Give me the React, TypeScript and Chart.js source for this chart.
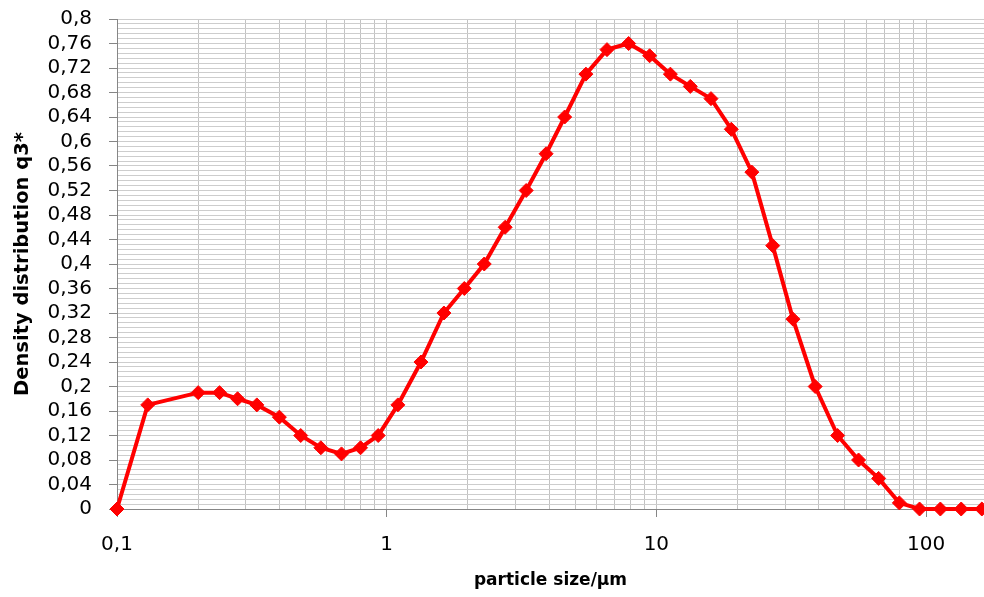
import React, { useEffect, useRef } from "react";
import { Chart, registerables } from "chart.js";

Chart.register(...registerables);

// particle size (µm)
const sizes: number[] = [
  0.1, 0.13, 0.2, 0.24, 0.28, 0.33, 0.4, 0.48, 0.57, 0.68, 0.8, 0.93, 1.1,
  1.34, 1.63, 1.94, 2.3, 2.75, 3.29, 3.9, 4.57, 5.48, 6.56, 7.89, 9.44,
  11.27, 13.36, 15.94, 18.96, 22.6, 27.0, 32.1, 38.8, 47.0, 56.2, 66.7,
  79.6, 94.6, 113, 135, 161,
];

// density distribution q3*
const density: number[] = [
  0, 0.17, 0.19, 0.19, 0.18, 0.17, 0.15, 0.12, 0.1, 0.09, 0.1, 0.12, 0.17,
  0.24, 0.32, 0.36, 0.4, 0.46, 0.52, 0.58, 0.64, 0.71, 0.75, 0.76, 0.74,
  0.71, 0.69, 0.67, 0.62, 0.55, 0.43, 0.31, 0.2, 0.12, 0.08, 0.05, 0.01,
  0, 0, 0, 0,
];

const xDecades: number[] = [0.1, 1, 10, 100];
const xDecadeLabels: string[] = ["0,1", "1", "10", "100"];
const xMultipliers: number[] = [1, 2, 3, 4, 5, 6, 7, 8, 9];

const X_MIN = 0.1;
const X_MAX = 164;
const Y_MIN = 0;
const Y_MAX = 0.8;
const Y_MINOR_STEP = 0.008;
const Y_MAJOR_EVERY = 5;

const TICK_FONT = { family: "DejaVu Sans", size: 20 };
const Y_TITLE_FONT = { family: "DejaVu Sans", size: 19.5, weight: "bold" as const };
const X_TITLE_FONT = { family: "DejaVu Sans", size: 17, weight: "bold" as const };

const isDecade = (v: number) =>
  xDecades.some((d) => Math.abs(v - d) / d < 1e-6);

export default function App() {
  const ref = useRef<HTMLCanvasElement | null>(null);

  useEffect(() => {
    document.body.style.margin = "0";
    const canvas = ref.current;
    if (!canvas) return;

    const gridValues: number[] = [];
    for (let i = 0; i < xDecades.length - 1; i++) {
      for (const m of xMultipliers) gridValues.push(xDecades[i] * m);
    }
    gridValues.push(xDecades[xDecades.length - 1]);

    const chart = new Chart(canvas, {
      type: "line",
      data: {
        datasets: [
          {
            data: sizes.map((s, i) => ({ x: s, y: density[i] })),
            borderColor: "#ff0000",
            backgroundColor: "#ff0000",
            borderWidth: 4,
            pointStyle: "rectRot",
            pointRadius: 7,
            pointBorderWidth: 1,
            pointBorderColor: "#ff0000",
            pointBackgroundColor: "#ff0000",
            tension: 0,
            clip: false as any,
          },
        ],
      },
      options: {
        animation: false,
        responsive: true,
        maintainAspectRatio: false,
        layout: {
          autoPadding: false,
          padding: { top: 19, left: 0, right: 0, bottom: 0 },
        },
        plugins: {
          legend: { display: false },
          tooltip: { enabled: false },
        },
        scales: {
          x: {
            type: "logarithmic",
            min: X_MIN,
            max: X_MAX,
            afterBuildTicks: (scale: any) => {
              scale.ticks = gridValues.map((v) => ({ value: v }));
            },
            afterFit: (scale: any) => {
              scale.height = 88;
              scale.paddingLeft = 0;
              scale.paddingRight = 0;
            },
            ticks: {
              autoSkip: false,
              maxRotation: 0,
              minRotation: 0,
              padding: 16,
              color: "#000",
              font: TICK_FONT,
              callback: (value: any) => {
                const idx = xDecades.findIndex(
                  (d) => Math.abs(Number(value) - d) / d < 1e-6
                );
                return idx >= 0 ? xDecadeLabels[idx] : "";
              },
            },
            grid: {
              color: "#c2c2c2",
              lineWidth: 1,
              tickLength: 8,
              tickColor: (ctx: any) =>
                ctx.tick && isDecade(ctx.tick.value) ? "#868686" : "rgba(0,0,0,0)",
            },
            border: { display: true, color: "#868686", width: 1 },
            title: {
              display: true,
              text: "particle size/μm",
              color: "#000",
              font: X_TITLE_FONT,
              padding: { top: 0, bottom: 6 },
            },
          },
          y: {
            type: "linear",
            min: Y_MIN,
            max: Y_MAX,
            afterFit: (scale: any) => {
              scale.width = 117;
              scale.paddingTop = 0;
              scale.paddingBottom = 0;
            },
            ticks: {
              stepSize: Y_MINOR_STEP,
              autoSkip: false,
              padding: 17,
              color: "#000",
              font: TICK_FONT,
              callback: (value: any, index: number) => {
                if (index % Y_MAJOR_EVERY !== 0) return "";
                const v = Math.round(Number(value) * 100) / 100;
                return String(v).replace(".", ",");
              },
            },
            grid: {
              color: "#cdcdcd",
              lineWidth: 1,
              tickLength: 8,
              tickColor: (ctx: any) =>
                ctx.index % Y_MAJOR_EVERY === 0 ? "#868686" : "rgba(0,0,0,0)",
            },
            border: { display: true, color: "#868686", width: 1 },
            title: {
              display: true,
              text: "Density distribution q3*",
              color: "#000",
              font: Y_TITLE_FONT,
              padding: { top: 11, bottom: 0 },
            },
          },
        },
      },
    });

    return () => chart.destroy();
  }, []);

  return (
    <div style={{ width: 984, height: 597, position: "relative", overflow: "hidden" }}>
      <canvas ref={ref} />
    </div>
  );
}
